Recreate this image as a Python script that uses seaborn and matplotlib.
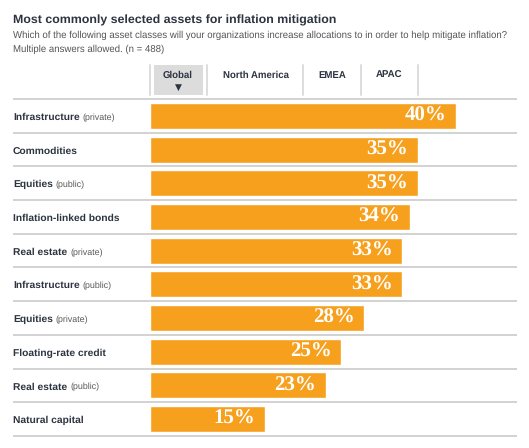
import matplotlib
matplotlib.use("Agg")
import matplotlib.pyplot as plt
import matplotlib.transforms as mtransforms
from matplotlib.patches import Rectangle
from matplotlib.lines import Line2D
from matplotlib.textpath import TextPath
from matplotlib.font_manager import FontProperties
import seaborn as sns
import pandas as pd

# ---- data ----
categories = ["Infrastructure (private)", "Commodities", "Equities (public)",
              "Inflation-linked bonds", "Real estate (private)", "Infrastructure (public)",
              "Equities (private)", "Floating-rate credit", "Real estate (public)",
              "Natural capital"]
values = [40, 35, 35, 34, 33, 33, 28, 25, 23, 15]
tabs = ["Global", "North America", "EMEA", "APAC"]
title = "Most commonly selected assets for inflation mitigation"
subtitle_lines = ["Which of the following asset classes will your organizations increase allocations to in order to help mitigate inflation?",
                  "Multiple answers allowed. (n = 488)"]

df = pd.DataFrame({"asset": categories, "pct": values})

W, H = 529, 448
sns.set_theme(style="white")
plt.rcParams['font.family'] = ['Liberation Sans', 'DejaVu Sans']
plt.rcParams['text.hinting'] = 'no_hinting'

fig = plt.figure(figsize=(W / 100, H / 100), dpi=100)
fig.patch.set_facecolor("white")

def fx(px):
    return px / W

def fy(py):
    return 1 - py / H

ORANGE = "#F6A01E"
NAVY = "#2B3440"
GRID = "#CFCFCF"

# bar axes: x from 150 to 517 px, rows from 99 to 436 px
ax_left, ax_right = 150, 517
ax_top, ax_bot = 99, 436
ax = fig.add_axes([fx(ax_left), fy(ax_bot), fx(ax_right - ax_left), (ax_bot - ax_top) / H])
sns.barplot(data=df, x="pct", y="asset", color=ORANGE, saturation=1, width=0.77, ax=ax, orient="h")
px_per_pct = 7.65
ax.set_xlim(0, (ax_right - ax_left) / px_per_pct)
n = len(categories)
ax.set_ylim(n - 0.5, -0.5)
ax.axis("off")

# separators extending to left margin
x_left_data = (13 - ax_left) / px_per_pct
for i in range(n + 1):
    ax.plot([x_left_data, ax.get_xlim()[1]], [i - 0.5, i - 0.5], color=GRID, lw=1.3,
            clip_on=False, zorder=0, solid_capstyle="butt")

# value labels
for i, v in enumerate(values):
    ax.annotate(f"{v}%", xy=(v, i), xytext=(-7, 0), textcoords="offset points",
                ha="right", va="center", color="white", fontsize=15, fontweight="bold",
                family=["Liberation Serif", "DejaVu Serif"])

# category labels
trans = mtransforms.blended_transform_factory(fig.transFigure, ax.transData)
main_size = 7.35
main_prop = FontProperties(family="Liberation Sans", weight="bold", size=main_size)
for i, cat in enumerate(categories):
    if " (" in cat:
        main, qual = cat.split(" (", 1)
        qual = "(" + qual
    else:
        main, qual = cat, None
    ax.text(fx(13), i + 0.12, main, transform=trans, ha="left", va="baseline",
            fontsize=main_size, fontweight="bold", color=NAVY)
    if qual:
        w_pt = TextPath((0, 0), main, size=main_size, prop=main_prop).get_extents().x1
        w_px = w_pt * 100 / 72
        ax.text(fx(13 + w_px + 3.5), i + 0.12, qual, transform=trans, ha="left", va="baseline",
                fontsize=6.4, color="#5A5A5A")

# title and subtitle
fig.text(fx(13), fy(23), title, ha="left", va="baseline", fontsize=8.95,
         fontweight="bold", color=NAVY)
for k, line in enumerate(subtitle_lines):
    fig.text(fx(13), fy(37.5 + 14.5 * k), line, ha="left", va="baseline", fontsize=6.9,
             color="#555555")

# header tabs
fig.patches.append(Rectangle((fx(154), fy(95)), fx(203 - 154), (95 - 65) / H,
                             transform=fig.transFigure, facecolor="#DCDCDC",
                             edgecolor="none", zorder=0))
for sx in [150, 207, 303, 361, 418]:
    fig.lines.append(Line2D([fx(sx), fx(sx)], [fy(95), fy(65)], transform=fig.transFigure,
                            color="#DDDDDD", lw=1.4))
tab_centers = [178, 256, 332, 389]
for name, cx in zip(tabs, tab_centers):
    fig.text(fx(cx), fy(78), name, ha="center", va="baseline", fontsize=6.9,
             fontweight="bold", color=NAVY)
fig.text(fx(178), fy(87.5), "\u25BC", ha="center", va="center", fontsize=6.5,
         color=NAVY, family=["DejaVu Sans"])

fig.savefig("out.png", dpi=100, facecolor="white")
